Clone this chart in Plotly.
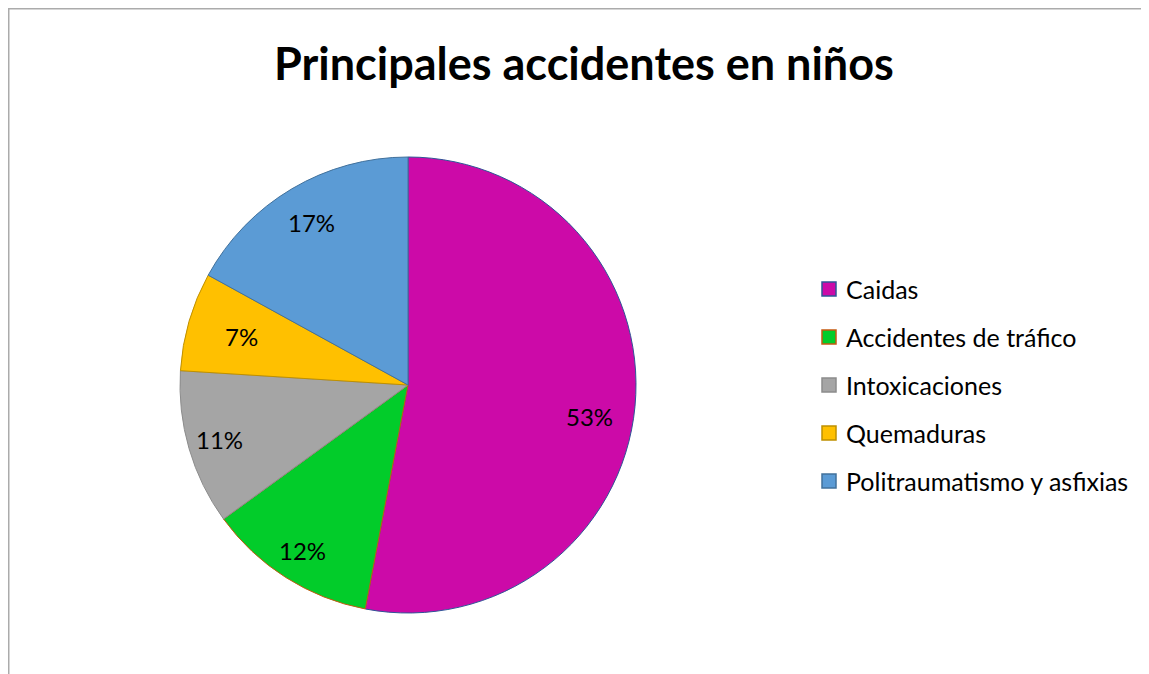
import math
import plotly.graph_objects as go

# ---- data ----
categories = ["Caidas", "Accidentes de tráfico", "Intoxicaciones", "Quemaduras",
              "Politraumatismo y asfixias"]
percentages = [53, 12, 11, 7, 17]
fill_colors = ["#CC0AA8", "#02CC2A", "#A5A5A5", "#FFC000", "#5B9BD5"]
edge_colors = ["#2F5597", "#C55A11", "#8C8C8C", "#BF9000", "#41719C"]
title_text = "Principales accidentes en niños"

# ---- layout geometry (figure pixels; page adds an 8px body margin) ----
W, H = 1141, 666
cx, cy, R = 400, 377, 228
label_radius = [0.81, 0.86, 0.86, 0.76, 0.83]
label_angle_shift = [4.5, 0, 0, 0, 0]  # degrees, label placement tweak

def px(x):
    return x / W

def py(y):
    return 1 - y / H

fig = go.Figure(go.Pie(
    labels=categories,
    values=percentages,
    sort=False,
    direction="clockwise",
    rotation=0,
    marker=dict(colors=fill_colors, line=dict(color=edge_colors, width=1)),
    textinfo="none",
    hoverinfo="label+percent",
    showlegend=False,
    domain=dict(x=[px(cx - R), px(cx + R)], y=[py(cy + R), py(cy - R)]),
))

annotations = []
# percentage labels placed along each slice's mid-angle
total = sum(percentages)
cum = 0
for v, fr, sh in zip(percentages, label_radius, label_angle_shift):
    mid = (cum + v / 2) / total * 2 * math.pi + math.radians(sh)
    cum += v
    rr = fr * R
    x = cx + rr * math.sin(mid)
    y = cy - rr * math.cos(mid)
    annotations.append(dict(x=px(x), y=py(y), xref="paper", yref="paper",
                            text=f"{round(v / total * 100)}%", showarrow=False,
                            xanchor="center", yanchor="middle",
                            font=dict(family="Lato", size=24, color="#000000")))

# legend (swatch + label per category)
shapes = []
leg_x, leg_y0, leg_dy, sw = 814, 281, 48, 14
for i, (name, fc, ec) in enumerate(zip(categories, fill_colors, edge_colors)):
    yy = leg_y0 + i * leg_dy
    shapes.append(dict(type="rect", xref="paper", yref="paper",
                       x0=px(leg_x), x1=px(leg_x + sw),
                       y0=py(yy + sw / 2), y1=py(yy - sw / 2),
                       fillcolor=fc, line=dict(color=ec, width=1.5)))
    annotations.append(dict(x=px(leg_x + sw + 8), y=py(yy), xref="paper", yref="paper",
                            text=name, showarrow=False, xanchor="left", yanchor="middle",
                            font=dict(family="Lato", size=25, color="#000000")))

# chart-area border
shapes.append(dict(type="rect", xref="paper", yref="paper",
                   x0=px(0.75), x1=1.05, y0=-0.05, y1=py(0.75),
                   line=dict(color="#ABABAB", width=1.5), fillcolor="rgba(0,0,0,0)"))

annotations.append(dict(x=px(576), y=py(55), xref="paper", yref="paper",
                        text=f"<b>{title_text}</b>", showarrow=False,
                        xanchor="center", yanchor="middle",
                        font=dict(family="Lato", size=45, color="#000000")))

fig.update_layout(
    width=W, height=H,
    margin=dict(l=0, r=0, t=0, b=0),
    paper_bgcolor="white",
    plot_bgcolor="white",
    shapes=shapes,
    annotations=annotations,
)

fig.write_html("out.html")
